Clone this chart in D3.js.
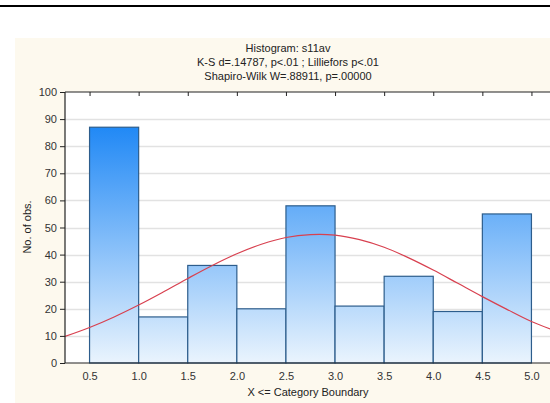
<!DOCTYPE html>
<html><head><meta charset="utf-8">
<script src="https://cdn.jsdelivr.net/npm/d3@7"></script>
<style>html,body{margin:0;padding:0;background:#fff;overflow:hidden}svg{display:block}</style>
</head><body>
<svg id="c" width="550" height="403"></svg>
<script>
const titleLines = ["Histogram: s11av", "K-S d=.14787, p<.01 ; Lilliefors p<.01", "Shapiro-Wilk W=.88911, p=.00000"];
const binStarts = [0.5, 1.0, 1.5, 2.0, 2.5, 3.0, 3.5, 4.0, 4.5];
const binEnds   = [1.0, 1.5, 2.0, 2.5, 3.0, 3.5, 4.0, 4.5, 5.0];
const counts    = [87, 17, 36, 20, 58, 21, 32, 19, 55];
const curveX = [0.25,0.5,0.75,1.0,1.25,1.5,1.75,2.0,2.25,2.5,2.75,3.0,3.25,3.5,3.75,4.0,4.25,4.5,4.75,5.0,5.25];
const curveY = [9.8,13.1,17.0,21.4,26.2,31.2,36.0,40.3,43.8,46.3,47.4,47.2,45.5,42.7,38.8,34.3,29.4,24.5,19.8,15.3,11.8];
const xTicks = [0.5,1.0,1.5,2.0,2.5,3.0,3.5,4.0,4.5,5.0];
const yTicks = [0,10,20,30,40,50,60,70,80,90,100];

const svg = d3.select("#c");
const font = "'Liberation Sans', Arial, sans-serif";
// top black rule
svg.append("rect").attr("x",0).attr("y",5).attr("width",550).attr("height",2).attr("fill","#000");
// beige panel
svg.append("rect").attr("x",15).attr("y",38).attr("width",535).attr("height",365).attr("fill","#fdf9ee");

const L = 65, T = 92, B = 363, R = 556;
const x = d3.scaleLinear().domain([0.25, 5.25]).range([L, R]);
const y = d3.scaleLinear().domain([0, 100]).range([B, T]);

const defs = svg.append("defs");
const grad = defs.append("linearGradient").attr("id","g").attr("gradientUnits","userSpaceOnUse")
  .attr("x1",0).attr("x2",0).attr("y1",y(90)).attr("y2",y(0));
grad.append("stop").attr("offset","0").attr("stop-color","#1a85f5");
grad.append("stop").attr("offset","1").attr("stop-color","#eaf4fd");
defs.append("clipPath").attr("id","clip").append("rect").attr("x",L).attr("y",T).attr("width",R-L).attr("height",B-T);

svg.append("rect").attr("x",L).attr("y",T).attr("width",R-L).attr("height",B-T).attr("fill","#fff");

// gridlines
svg.append("g").selectAll("line").data(yTicks.filter(d=>d>0&&d<100)).join("line")
  .attr("x1",L).attr("x2",R).attr("y1",d=>Math.round(y(d))+0.5).attr("y2",d=>Math.round(y(d))+0.5)
  .attr("stroke","#e2e2e2").attr("stroke-width",1.5);

// bars
svg.append("g").selectAll("rect").data(counts).join("rect")
  .attr("x",(d,i)=>x(binStarts[i])).attr("width",(d,i)=>x(binEnds[i])-x(binStarts[i]))
  .attr("y",d=>y(d)).attr("height",d=>B-y(d))
  .attr("fill","url(#g)").attr("stroke","#2d5d8c").attr("stroke-width",1.2);

// normal curve
svg.append("path").datum(curveX.map((v,i)=>[v,curveY[i]]))
  .attr("clip-path","url(#clip)")
  .attr("d",d3.line().x(d=>x(d[0])).y(d=>y(d[1])).curve(d3.curveCatmullRom))
  .attr("fill","none").attr("stroke","#d8404f").attr("stroke-width",1.2);

// frame
svg.append("line").attr("x1",L).attr("x2",L).attr("y1",T).attr("y2",B).attr("stroke","#222").attr("stroke-width",1.2);
svg.append("line").attr("x1",L).attr("x2",R).attr("y1",B).attr("y2",B).attr("stroke","#222").attr("stroke-width",1.2);
svg.append("line").attr("x1",L).attr("x2",R).attr("y1",T).attr("y2",T).attr("stroke","#222").attr("stroke-width",1.2);

// axes
const yAxis = d3.axisLeft(y).tickValues(yTicks).tickSize(5).tickFormat(d3.format("d"));
const gy = svg.append("g").attr("transform",`translate(${L},0)`).call(yAxis);
gy.select(".domain").remove();
gy.selectAll("line").attr("stroke","#222");
gy.selectAll("text").attr("font-family",font).attr("font-size",11).attr("fill","#333").attr("x",-8);

const xAxis = d3.axisBottom(x).tickValues(xTicks).tickSize(0).tickFormat(d3.format(".1f"));
const gx = svg.append("g").attr("transform",`translate(0,${B})`).call(xAxis);
gx.select(".domain").remove();
gx.selectAll("text").attr("font-family",font).attr("font-size",11).attr("fill","#333").attr("dy","0").attr("y",17);

const xTop = d3.axisBottom(x).tickValues(xTicks).tickSize(4).tickFormat("");
const gt = svg.append("g").attr("transform",`translate(0,${T})`).call(xTop);
gt.select(".domain").remove();
gt.selectAll("line").attr("stroke","#222");

// titles
svg.append("g").selectAll("text").data(titleLines).join("text")
  .attr("x",288).attr("y",(d,i)=>52+i*14).attr("text-anchor","middle")
  .attr("font-family",font).attr("font-size",11).attr("fill","#222").text(d=>d);
svg.append("text").attr("x",308).attr("y",396).attr("text-anchor","middle")
  .attr("font-family",font).attr("font-size",11).attr("fill","#222").text("X <= Category Boundary");
svg.append("text").attr("transform","translate(31,227) rotate(-90)").attr("text-anchor","middle")
  .attr("font-family",font).attr("font-size",11).attr("fill","#222").text("No. of obs.");
</script>
</body></html>
